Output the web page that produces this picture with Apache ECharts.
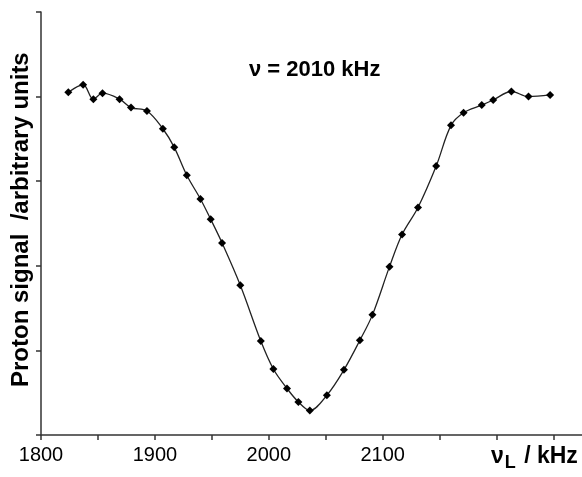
<!DOCTYPE html>
<html>
<head>
<meta charset="utf-8">
<script src="https://cdn.jsdelivr.net/npm/echarts@6/dist/echarts.min.js"></script>
<style>
html, body { margin: 0; padding: 0; background: #fff; }
#chart { width: 582px; height: 477px; }
</style>
</head>
<body>
<div id="chart"></div>
<script>
// frequency (kHz) and proton signal (arbitrary units)
var freq = [1824, 1837, 1846, 1854, 1869, 1879, 1893, 1907, 1917, 1928,
            1940, 1949, 1959, 1975, 1993, 2004, 2016, 2026, 2036, 2051,
            2066, 2080, 2091, 2106, 2117, 2131, 2147, 2160, 2171, 2187,
            2197, 2213, 2228, 2247];
var signal = [4.05, 4.14, 3.97, 4.04, 3.97, 3.87, 3.83, 3.62, 3.40, 3.07,
              2.79, 2.55, 2.27, 1.77, 1.11, 0.78, 0.55, 0.39, 0.29, 0.47,
              0.77, 1.12, 1.42, 1.99, 2.37, 2.69, 3.18, 3.66, 3.81, 3.90,
              3.96, 4.06, 4.00, 4.02];
var xTicks = [1800, 1850, 1900, 1950, 2000, 2050, 2100, 2150, 2200, 2250];
var xLabels = [1800, 1900, 2000, 2100];

var points = freq.map(function (f, i) { return [f, signal[i]]; });

var chart = echarts.init(document.getElementById('chart'));
var option = {
    animation: false,
    backgroundColor: '#fff',
    grid: { left: 41, top: 12, width: 541, height: 423 },
    xAxis: {
        type: 'value',
        min: 1800,
        max: 2275,
        interval: 50,
        splitLine: { show: false },
        axisLine: { lineStyle: { color: '#333', width: 1.5 } },
        axisTick: { customValues: xTicks, length: 5, lineStyle: { color: '#333', width: 1.5 } },
        axisLabel: {
            customValues: xLabels,
            formatter: function (v) { return String(v); },
            color: '#000',
            fontSize: 20,
            fontFamily: 'Liberation Sans',
            margin: 10
        }
    },
    yAxis: {
        type: 'value',
        min: 0,
        max: 5,
        interval: 1,
        splitLine: { show: false },
        axisLine: { show: true, lineStyle: { color: '#333', width: 1.5 } },
        axisTick: { show: true, length: 5, lineStyle: { color: '#333', width: 1.5 } },
        axisLabel: { show: false }
    },
    series: [{
        type: 'line',
        data: points,
        smooth: 0.35,
        symbol: 'diamond',
        symbolSize: 8,
        itemStyle: { color: '#000' },
        lineStyle: { color: '#222', width: 1.3 }
    }],
    graphic: [
        {
            type: 'text',
            left: 249,
            top: 59,
            style: {
                text: 'ν = 2010 kHz',
                font: 'bold 22px "Liberation Sans"',
                fill: '#000'
            }
        },
        {
            type: 'text',
            x: 9,
            y: 387,
            rotation: Math.PI / 2,
            style: {
                text: 'Proton signal  /arbitrary units',
                font: 'bold 24px "Liberation Sans"',
                fill: '#000',
                align: 'left',
                verticalAlign: 'top'
            }
        },
        {
            type: 'text',
            left: 491,
            top: 445,
            style: {
                text: '{n|ν}{s|L}{n| / kHz}',
                rich: {
                    n: { font: 'bold 23px "Liberation Sans"', fill: '#000' },
                    s: { font: 'bold 18px "Liberation Sans"', fill: '#000', padding: [13, 2, 0, 1] }
                }
            }
        }
    ]
};
chart.setOption(option);
</script>
</body>
</html>
